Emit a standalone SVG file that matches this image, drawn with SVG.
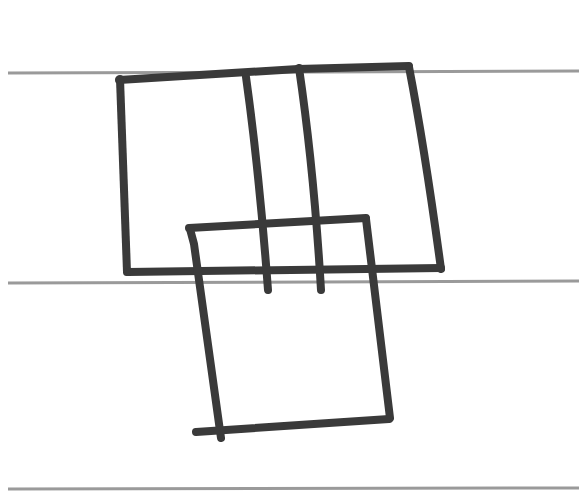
<svg xmlns="http://www.w3.org/2000/svg" width="579" height="491" viewBox="0 0 579 491">
  <style>
    .rule { stroke: #9a9a9a; stroke-width: 3; fill: none; }
    .ink { stroke: #3a3a3a; stroke-width: 8; fill: none; stroke-linecap: round; stroke-linejoin: round; }
  </style>
  <rect width="579" height="491" fill="#ffffff"/>
  <g id="paper-rules">
    <line class="rule" x1="8" y1="73" x2="579" y2="71"/>
    <line class="rule" x1="8" y1="283" x2="579" y2="281"/>
    <line class="rule" x1="8" y1="489" x2="579" y2="488"/>
  </g>
  <g id="upper-rectangle">
    <path class="ink" d="M119,80 L298,69 L409,66"/>
    <path class="ink" d="M120,79 L127,272"/>
    <path class="ink" d="M409,67 Q425,150 441,269"/>
    <path class="ink" d="M128,272 L441,268"/>
  </g>
  <g id="middle-strip">
    <path class="ink" d="M246,77 Q259,170 268,290"/>
    <path class="ink" d="M299,68 Q314,170 321,290"/>
  </g>
  <g id="lower-square">
    <path class="ink" d="M189,228 L366,218"/>
    <path class="ink" d="M190,229 L194,244 L221,438"/>
    <path class="ink" d="M366,219 L390,418"/>
    <path class="ink" d="M196,432 L389,419"/>
  </g>
</svg>
